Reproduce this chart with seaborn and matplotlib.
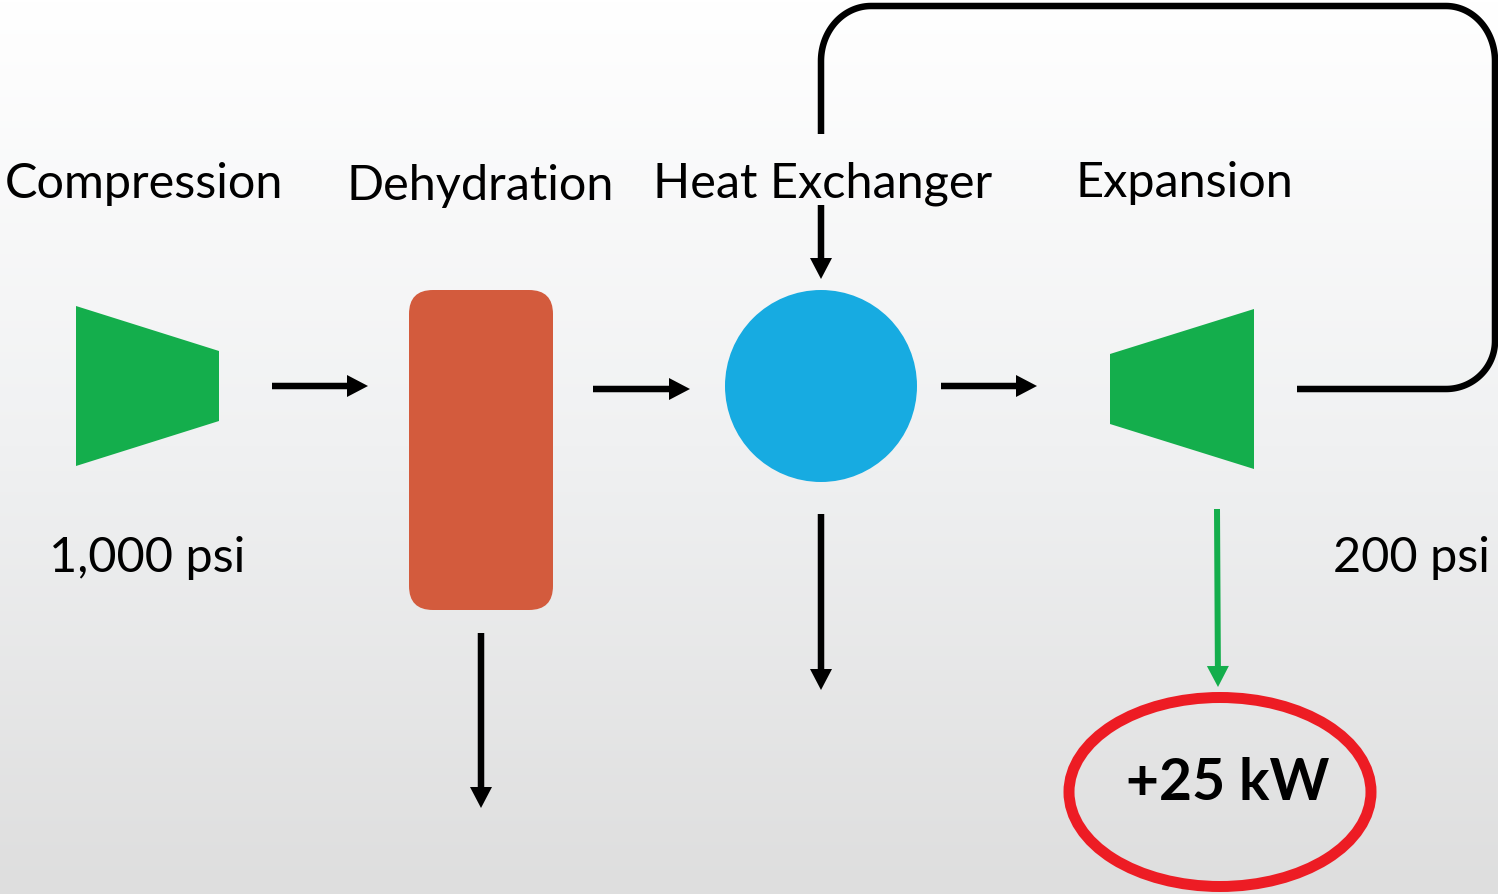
import numpy as np
import matplotlib
matplotlib.use("Agg")
import matplotlib.pyplot as plt
import seaborn as sns
from matplotlib.patches import Polygon, Circle, Ellipse, FancyBboxPatch, FancyArrow
from matplotlib.colors import LinearSegmentedColormap

# Stage labels and annotations
stage_labels = ["Compression", "Dehydration", "Heat Exchanger", "Expansion"]
pressure_labels = ["1,000 psi", "200 psi"]
power_label = "+25 kW"

sns.set_theme(style="white")
plt.rcParams['font.family'] = ['Lato', 'DejaVu Sans']

W, H = 1498, 895
fig = plt.figure(figsize=(W / 100, H / 100), dpi=100)
ax = fig.add_axes([0, 0, 1, 1])
ax.set_xlim(0, W)
ax.set_ylim(H, 0)
ax.axis('off')

# background gradient, white on top to light grey at the bottom
bg = LinearSegmentedColormap.from_list('bg', ['#ffffff', '#f0f1f2', '#dedede'])
ax.imshow(np.linspace(0, 1, 256)[:, None], extent=(0, W, H, 0), cmap=bg,
          aspect='auto', zorder=0)

GREEN = '#14ae4c'
ORANGE = '#d35b3d'
BLUE = '#17abe1'
RED = '#ed1c24'
px = 72 / 100  # one pixel in points

# compressor and expander (trapezoids)
ax.add_patch(Polygon([(76, 307), (219, 352), (219, 422), (76, 467)], closed=True,
                     fc=GREEN, ec='none', zorder=2))
ax.add_patch(Polygon([(1110, 355), (1254, 310), (1254, 470), (1110, 425)], closed=True,
                     fc=GREEN, ec='none', zorder=2))

# dehydration column
ax.add_patch(FancyBboxPatch((409, 291), 144, 320, boxstyle="round,pad=0,rounding_size=24",
                            fc=ORANGE, ec='none', zorder=2))

# heat exchanger
ax.add_patch(Circle((821, 387), 96, fc=BLUE, ec='none', zorder=2))


def arrow(x0, y0, x1, y1, color='black', shaft=6.5):
    ax.add_patch(FancyArrow(x0, y0, x1 - x0, y1 - y0, width=shaft, head_width=22,
                            head_length=21, length_includes_head=True,
                            fc=color, ec='none', zorder=3))


arrow(272, 387, 368, 387)
arrow(593, 390, 690, 390)
arrow(941, 387, 1037, 387)
arrow(821, 206, 821, 280)
arrow(481, 634, 481, 809)
arrow(821, 515, 821, 691)
arrow(1217, 510, 1218, 688, color=GREEN, shaft=6)

# recycle loop from expander outlet back to heat exchanger
t = np.linspace(0, np.pi / 2, 40)
xs = [1297, 1446]
ys = [390, 390]
xs += list(1446 + 49 * np.sin(t)); ys += list(342 + 48 * np.cos(t))
xs += list(1446 + 49 * np.cos(t)); ys += list(62 - 55 * np.sin(t))
xs += list(871 - 50 * np.sin(t)); ys += list(7 + 55 * (1 - np.cos(t)))
xs += [821]; ys += [135]
ax.plot(xs, ys, color='black', lw=6.5 * px, solid_capstyle='butt',
        solid_joinstyle='round', zorder=3)

# power output
ax.add_patch(Ellipse((1220, 793), 302, 189, fill=False, ec=RED, lw=11 * px, zorder=3))

label_x = [144, 480, 823, 1184]
label_y = [198, 200, 197, 197]
for txt, x, y in zip(stage_labels, label_x, label_y):
    ax.text(x, y, txt, ha='center', va='baseline', fontsize=35, color='black', zorder=4)

ax.text(147, 572, pressure_labels[0], ha='center', va='baseline', fontsize=35, color='black')
ax.text(1411, 572, pressure_labels[1], ha='center', va='baseline', fontsize=35, color='black')
ax.text(1228, 800, power_label, ha='center', va='baseline', fontsize=41,
        fontweight='bold', color='black', zorder=4)

fig.savefig('out.png', dpi=100)
